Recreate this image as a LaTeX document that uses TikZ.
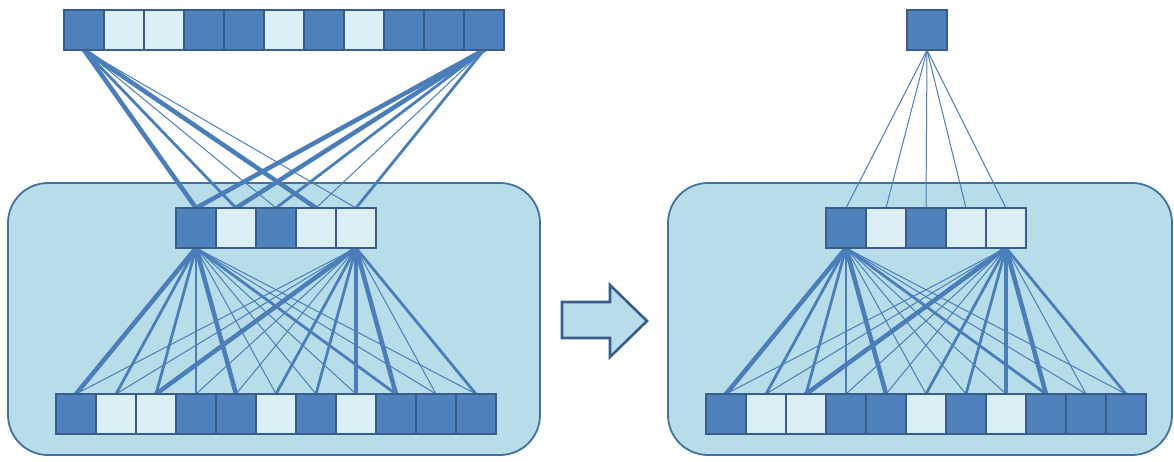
\documentclass[tikz,border=0pt]{standalone}
\definecolor{dk}{HTML}{4F81BD}
\definecolor{dkb}{HTML}{385D8A}
\definecolor{lt}{HTML}{DBEEF4}
\definecolor{boxf}{HTML}{B7DDE8}
\definecolor{boxb}{HTML}{41719C}
\definecolor{ln}{HTML}{4A7EBB}
\pgfdeclarelayer{back}
\pgfdeclarelayer{edges}
\pgfsetlayers{back,edges,main}
\begin{document}
\begin{tikzpicture}[x=1pt,y=-1pt,
  cell/.style={draw=dkb,line width=1.8pt,minimum width=40pt,minimum height=40pt,inner sep=0pt,outer sep=0pt},
  panel/.style={draw=boxb,fill=boxf,line width=1.8pt,rounded corners=40pt,inner sep=0pt,outer sep=0pt},
  edge/.style={draw=ln,line cap=round},
  bigarrow/.style={draw=dkb,fill=boxf,line width=2.6pt,line join=miter}]
\useasboundingbox (0,0) rectangle (1174,462);

\begin{pgfonlayer}{back}
\node[panel,minimum width=532pt,minimum height=272pt] (pL) at (274,319) {};
\node[panel,minimum width=504pt,minimum height=272pt] (pR) at (920,319) {};
\end{pgfonlayer}

% left panel
\foreach \c [count=\k] in {dk,lt,lt,dk,dk,lt,dk,lt,dk,dk,dk}
  \node[cell,fill=\c] (T\k) at ({84+40*(\k-1)},30) {};
\foreach \c [count=\k] in {dk,lt,dk,lt,lt}
  \node[cell,fill=\c] (M\k) at ({196+40*(\k-1)},228) {};
\foreach \c [count=\k] in {dk,lt,lt,dk,dk,lt,dk,lt,dk,dk,dk}
  \node[cell,fill=\c] (B\k) at ({76+40*(\k-1)},414) {};

% right panel
\node[cell,fill=dk] (RT) at (927,30) {};
\foreach \c [count=\k] in {dk,lt,dk,lt,lt}
  \node[cell,fill=\c] (RM\k) at ({846+40*(\k-1)},228) {};
\foreach \c [count=\k] in {dk,lt,lt,dk,dk,lt,dk,lt,dk,dk,dk}
  \node[cell,fill=\c] (RB\k) at ({726+40*(\k-1)},414) {};

\begin{pgfonlayer}{edges}
% top layer to middle (left)
\foreach \m/\w in {1/4.5pt,2/2.8pt,3/1pt,4/4.5pt,5/1pt}
  \draw[edge,line width=\w] (T1.south) -- (M\m.north);
\foreach \m/\w in {1/4.5pt,2/4.5pt,3/2.8pt,4/1pt,5/2.8pt}
  \draw[edge,line width=\w] (T11.south) -- (M\m.north);
% top square to middle (right)
\foreach \m in {1,...,5}
  \draw[edge,line width=1pt] (RT.south) -- (RM\m.north);
% middle to bottom, both panels
\foreach \p in {,R}{
  \foreach \b/\w in {1/4.5pt,2/2.8pt,3/2.8pt,4/1.1pt,5/4.5pt,6/1pt,7/1pt,8/1pt,9/2.8pt,10/1pt,11/1pt}
    \draw[edge,line width=\w] (\p M1.south) -- (\p B\b.north);
  \foreach \b/\w in {1/1pt,2/1pt,3/4.5pt,4/1pt,5/1pt,6/2.8pt,7/2.8pt,8/4.5pt,9/4.5pt,10/1pt,11/2.8pt}
    \draw[edge,line width=\w] (\p M5.south) -- (\p B\b.north);
}
\end{pgfonlayer}

% transition arrow
\draw[bigarrow] (562,302) -- (610,302) -- (610,285) -- (647,321) -- (610,357) -- (610,338) -- (562,338) -- cycle;
\end{tikzpicture}
\end{document}
